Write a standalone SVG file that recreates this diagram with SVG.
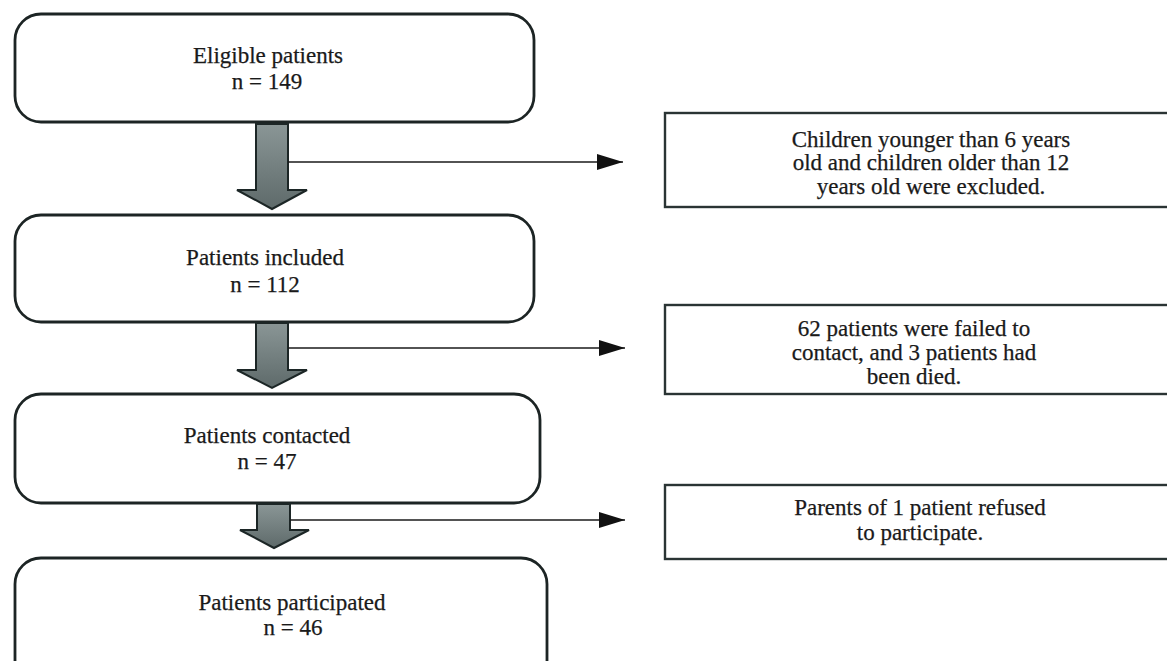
<svg xmlns="http://www.w3.org/2000/svg" width="1167" height="661" viewBox="0 0 1167 661">
<style>
.box{fill:#fff;stroke:#1c2424;stroke-width:2.8}
.rbox{fill:#fff;stroke:#2a3434;stroke-width:2.4}
.blk{fill:url(#g);stroke:#1c2626;stroke-width:2}
.ln{stroke:#1a1a1a;stroke-width:1.4;fill:none}
text{font-family:"Liberation Serif","DejaVu Serif",serif;font-size:23px;fill:#1a1a1a;text-anchor:middle;stroke:#1a1a1a;stroke-width:0.25}
</style>
<defs>
<linearGradient id="g" x1="0" y1="0" x2="0" y2="1">
<stop offset="0" stop-color="#8a9696"/>
<stop offset="1" stop-color="#5e6a6a"/>
</linearGradient>
<marker id="ah" markerWidth="26" markerHeight="16" refX="26" refY="8" orient="auto" markerUnits="userSpaceOnUse">
<path d="M0,0 L26,8 L0,16 Z" fill="#111"/>
</marker>
</defs>
<g id="n1"><rect class="box" x="15" y="14" width="519" height="108" rx="26"/>
<text x="268" y="63">Eligible patients</text><text x="267" y="89">n = 149</text></g>
<g id="n2"><rect class="box" x="15" y="215" width="519" height="107" rx="26"/>
<text x="265" y="265">Patients included</text><text x="265" y="292">n = 112</text></g>
<g id="n3"><rect class="box" x="15" y="394" width="525" height="109" rx="26"/>
<text x="267" y="443">Patients contacted</text><text x="267" y="469">n = 47</text></g>
<g id="n4"><rect class="box" x="15" y="558" width="532" height="130" rx="26"/>
<text x="292" y="610">Patients participated</text><text x="293" y="635">n = 46</text></g>
<g id="e1"><rect class="rbox" x="665" y="113" width="520" height="94"/>
<text x="931" y="147">Children younger than 6 years</text><text x="931" y="170">old and children older than 12</text><text x="931" y="194">years old were excluded.</text></g>
<g id="e2"><rect class="rbox" x="665" y="305" width="520" height="89"/>
<text x="914" y="336">62 patients were failed to</text><text x="914" y="360">contact, and 3 patients had</text><text x="914" y="384">been died.</text></g>
<g id="e3"><rect class="rbox" x="665" y="485" width="520" height="74"/>
<text x="920" y="515">Parents of 1 patient refused</text><text x="920" y="540">to participate.</text></g>
<g id="connectors">
<path class="blk" d="M256,124 L288,124 L288,190 L307,190 L272,209 L237,190 L256,190 Z"/>
<path class="blk" d="M256,323 L288,323 L288,370 L307,370 L272,388 L237,370 L256,370 Z"/>
<path class="blk" d="M257,504 L290,504 L290,530 L309,530 L274,548 L240,530 L257,530 Z"/>
<line class="ln" x1="288" y1="162" x2="623" y2="162" marker-end="url(#ah)"/>
<line class="ln" x1="288" y1="348" x2="625" y2="348" marker-end="url(#ah)"/>
<line class="ln" x1="290" y1="520" x2="625" y2="520" marker-end="url(#ah)"/>
</g>
</svg>
